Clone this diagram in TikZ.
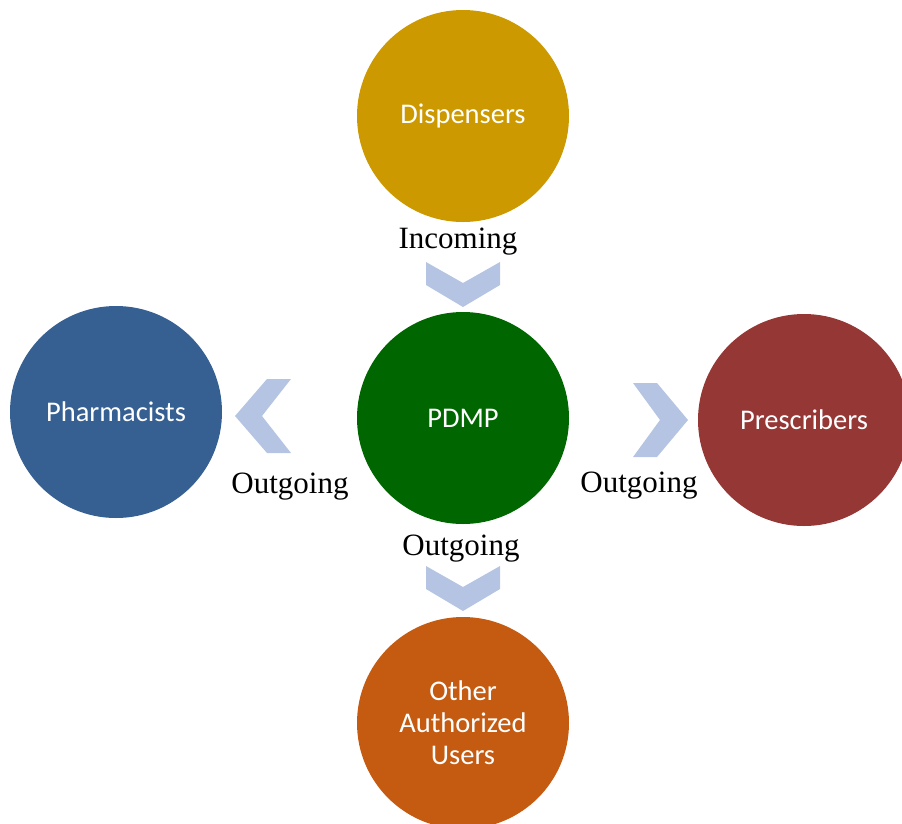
\documentclass[tikz,border=0pt]{standalone}
\usepackage{fontspec}
\setmainfont{Liberation Serif}
\newfontfamily\circfont{Carlito}
\usetikzlibrary{positioning}
\definecolor{dispgold}{RGB}{204,153,0}
\definecolor{pdmpgreen}{RGB}{0,102,0}
\definecolor{pharmblue}{RGB}{55,96,146}
\definecolor{prescred}{RGB}{149,55,53}
\definecolor{otherorange}{RGB}{197,90,17}
\definecolor{chevblue}{RGB}{180,196,226}
\tikzset{
  party/.style={circle,minimum size=212pt,inner sep=0pt,text=white,align=center,
    font=\circfont\fontsize{28.5}{32}\selectfont},
  flowlabel/.style={anchor=base,inner sep=0pt,font=\fontsize{31}{37}\selectfont},
  chevron/.style={fill=chevblue,draw=none},
}
\begin{document}
\begin{tikzpicture}[x=1pt,y=-1pt,on grid]
      \useasboundingbox (0,0) rectangle (902,823);
      \node[party,fill=pdmpgreen] (pdmp) at (463,418) {PDMP};
      \node[party,fill=dispgold,above=302pt of pdmp] (disp) {Dispensers};
      \node[party,fill=pharmblue,left=347pt of pdmp,yshift=6pt] (pharm) {Pharmacists};
      \node[party,fill=prescred,right=341pt of pdmp,yshift=-2pt] (presc) {Prescribers};
      \node[party,fill=otherorange,below=305pt of pdmp] (other) {Other\\Authorized\\Users};

      \node[flowlabel] (incoming) at (458,248) {Incoming};
      \node[flowlabel] (outpharm) at (290,493) {Outgoing};
      \node[flowlabel] (outpresc) at (639,492) {Outgoing};
      \node[flowlabel] (outother) at (461,555) {Outgoing};

      % chevrons
      \coordinate (chevin) at (426,262);
      \coordinate (chevpharm) at (291,379);
      \coordinate (chevpresc) at (633,383);
      \coordinate (chevother) at (426,566);
      \fill[chevron] (chevin) -- ++(37,21) -- ++(37,-21) -- ++(0,23) -- ++(-37,22) -- ++(-37,-22) -- cycle;
      \fill[chevron] (chevother) -- ++(37,21) -- ++(37,-21) -- ++(0,23) -- ++(-37,22) -- ++(-37,-22) -- cycle;
      \fill[chevron] (chevpharm) -- ++(-29,37) -- ++(29,37) -- ++(-24,0) -- ++(-32,-37) -- ++(32,-37) -- cycle;
      \fill[chevron] (chevpresc) -- ++(24,0) -- ++(31,37) -- ++(-31,37) -- ++(-24,0) -- ++(27,-37) -- cycle;
\end{tikzpicture}
\end{document}
